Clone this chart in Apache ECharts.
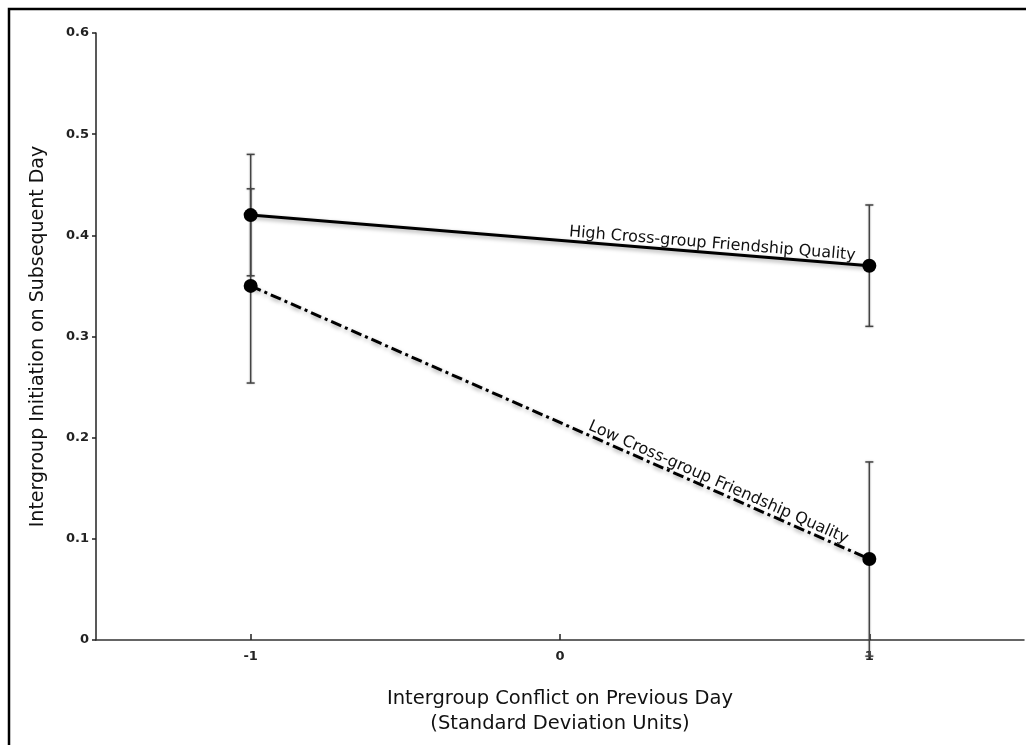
<!DOCTYPE html>
<html>
<head>
<meta charset="utf-8">
<script src="https://cdn.jsdelivr.net/npm/echarts@6/dist/echarts.min.js"></script>
<style>
  html, body { margin: 0; padding: 0; background: #fff; }
  #chart { width: 1026px; height: 745px; }
</style>
</head>
<body>
<div id="chart"></div>
<script>
// conflict level (SD units) on previous day
const conflictX = [-1, 1]
// high cross-group friendship quality
const highMean = [0.42, 0.37]
const highErr = [0.06, 0.06]
// low cross-group friendship quality
const lowMean = [0.35, 0.08]
const lowErr = [0.096, 0.096]
const xTicks = [-1, 0, 1]
const highLabel = 'High Cross-group Friendship Quality'
const lowLabel = 'Low Cross-group Friendship Quality'

const FONT = 'DejaVu Sans'

function toPoints (ys) {
  return conflictX.map((x, i) => [x, ys[i]])
}
function toBars (ys, es) {
  return conflictX.map((x, i) => [x, ys[i] - es[i], ys[i] + es[i]])
}

// vertical error bar with small caps
function errorBar (params, api) {
  let x = api.value(0)
  let lo = api.coord([x, api.value(1)])
  let hi = api.coord([x, api.value(2)])
  let cap = 4
  let style = { stroke: '#444', lineWidth: 1.5, shadowBlur: 2, shadowColor: 'rgba(0,0,0,0.3)' }
  return {
    type: 'group',
    children: [
      { type: 'line', shape: { x1: lo[0], y1: lo[1], x2: hi[0], y2: hi[1] }, style: style },
      { type: 'line', shape: { x1: hi[0] - cap, y1: hi[1], x2: hi[0] + cap, y2: hi[1] }, style: style },
      { type: 'line', shape: { x1: lo[0] - cap, y1: lo[1], x2: lo[0] + cap, y2: lo[1] }, style: style }
    ]
  }
}

let chart = echarts.init(document.getElementById('chart'))
let option = {
  backgroundColor: '#fff',
  animation: false,
  grid: { left: 96, right: 2, top: 33, bottom: 105 },
  xAxis: {
    type: 'value',
    min: -1.5,
    max: 1.5,
    name: 'Intergroup Conflict on Previous Day\n(Standard Deviation Units)',
    nameLocation: 'middle',
    nameGap: 46,
    nameTextStyle: { fontFamily: FONT, fontSize: 19.5, color: '#111', lineHeight: 25 },
    axisLine: { onZero: false, lineStyle: { color: '#333', width: 1.5 } },
    axisTick: { show: true, inside: true, length: 6, customValues: xTicks, lineStyle: { color: '#222', width: 1.5 } },
    axisLabel: { customValues: xTicks, fontFamily: FONT, fontSize: 13, fontWeight: 'bold', color: '#222', margin: 10 },
    splitLine: { show: false }
  },
  yAxis: {
    type: 'value',
    min: 0,
    max: 0.6,
    interval: 0.1,
    name: 'Intergroup Initiation on Subsequent Day',
    nameLocation: 'middle',
    nameGap: 48,
    nameTextStyle: { fontFamily: FONT, fontSize: 19, color: '#111' },
    axisLine: { show: true, onZero: false, lineStyle: { color: '#222', width: 1.5 } },
    axisTick: { show: true, length: 4, lineStyle: { color: '#222', width: 1.5 } },
    axisLabel: { fontFamily: FONT, fontSize: 13, fontWeight: 'bold', color: '#222', margin: 7 },
    splitLine: { show: false }
  },
  series: [
    {
      type: 'custom',
      name: 'high err',
      renderItem: errorBar,
      data: toBars(highMean, highErr),
      z: 1
    },
    {
      type: 'custom',
      name: 'low err',
      renderItem: errorBar,
      data: toBars(lowMean, lowErr),
      z: 1
    },
    {
      type: 'line',
      name: 'High',
      data: toPoints(highMean),
      symbol: 'circle',
      symbolSize: 14,
      itemStyle: { color: '#000' },
      lineStyle: { color: '#000', width: 3, shadowBlur: 4, shadowColor: 'rgba(0,0,0,0.35)', shadowOffsetY: 2 },
      z: 3
    },
    {
      type: 'line',
      name: 'Low',
      data: toPoints(lowMean),
      symbol: 'circle',
      symbolSize: 14,
      itemStyle: { color: '#000' },
      lineStyle: { color: '#000', width: 3, type: [11, 4, 3, 4], shadowBlur: 4, shadowColor: 'rgba(0,0,0,0.35)', shadowOffsetY: 2 },
      z: 3
    }
  ]
}
chart.setOption(option)

// text sitting on the line, rotated along it
function lineText (text, ys, atX) {
  let p1 = chart.convertToPixel({ gridIndex: 0 }, [conflictX[0], ys[0]])
  let p2 = chart.convertToPixel({ gridIndex: 0 }, [conflictX[1], ys[1]])
  let t = (atX - conflictX[0]) / (conflictX[1] - conflictX[0])
  let y = ys[0] + (ys[1] - ys[0]) * t
  let p = chart.convertToPixel({ gridIndex: 0 }, [atX, y])
  let ang = Math.atan2(p2[1] - p1[1], p2[0] - p1[0])
  return {
    type: 'text',
    x: p[0] + 1 * Math.sin(ang),
    y: p[1] - 1 * Math.cos(ang),
    rotation: -ang,
    style: {
      text: text,
      fontFamily: FONT,
      fontSize: 16,
      fill: '#111',
      align: 'center',
      verticalAlign: 'bottom'
    },
    z: 10
  }
}

chart.setOption({
  graphic: [
    {
      type: 'rect',
      shape: { x: 9, y: 9, width: 1200, height: 900 },
      style: { fill: 'none', stroke: '#000', lineWidth: 2.5 },
      silent: true
    },
    lineText(highLabel, highMean, 0.49),
    lineText(lowLabel, lowMean, 0.5)
  ]
})
</script>
</body>
</html>
